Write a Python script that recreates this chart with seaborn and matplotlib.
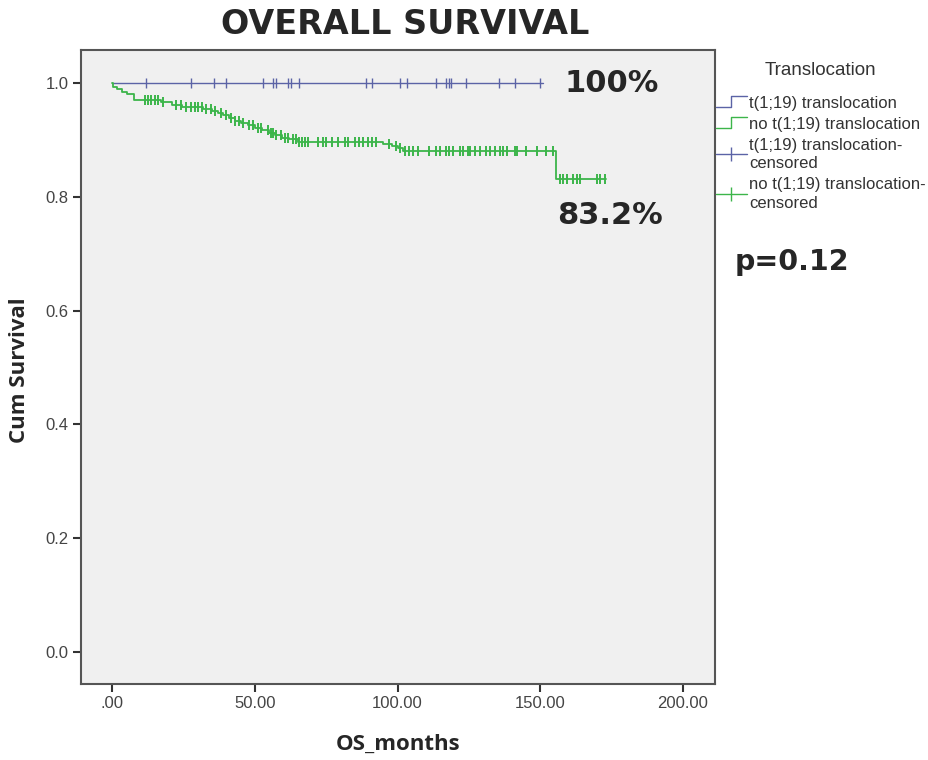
import numpy as np
import pandas as pd
import matplotlib
matplotlib.use('Agg')
import matplotlib.pyplot as plt
import seaborn as sns

from matplotlib.lines import Line2D
from matplotlib.legend_handler import HandlerBase

# t(1;19) translocation group: no deaths, survival flat at 1.0
trans_time = [0.0, 151.0]
trans_surv = [1.0, 1.0]
trans_censor = [11.8, 27.5, 35.8, 39.8, 52.9, 56.4, 57.3, 61.7, 62.7, 65.5,
                89.1, 91.2, 101.0, 103.4, 113.6, 117.1, 117.9, 118.6, 123.9,
                135.6, 141.1, 149.8]

# no t(1;19) translocation group: KM steps (time, survival after step)
no_time = [0.0, 0.4, 1.6, 3.5, 5.2, 7.6, 17.0, 21.0, 24.5, 32.0, 35.0, 37.0,
           39.0, 41.0, 43.0, 45.0, 47.5, 50.0, 52.5, 55.0, 57.0, 59.5, 62.0,
           65.0, 95.0, 98.0, 100.0, 102.0, 155.5, 173.0]
no_surv = [1.0, 0.993, 0.989, 0.985, 0.981, 0.970, 0.966, 0.962, 0.958, 0.955,
           0.951, 0.947, 0.943, 0.939, 0.934, 0.930, 0.926, 0.921, 0.917,
           0.913, 0.909, 0.904, 0.901, 0.897, 0.893, 0.889, 0.885, 0.881,
           0.832, 0.832]
no_censor = [11.5, 12.5, 13.5, 15.0, 16.0, 18.0, 22.5, 24.0, 26.0, 27.5, 29.0,
             30.0, 31.5, 33.0, 34.5, 36.0, 38.0, 40.0, 41.5, 43.0, 44.5, 46.0,
             48.0, 49.5, 51.0, 52.0, 54.5, 55.5, 56.5, 57.5, 59.0, 60.5, 61.5,
             63.5, 64.5, 65.5, 66.5, 67.5, 68.5, 72.0, 74.0, 75.0, 77.0, 79.0,
             81.5, 82.6, 85.0, 86.5, 88.0, 89.5, 91.0, 92.5, 97.0, 99.5, 101.0,
             102.5, 104.0, 105.5, 107.0, 111.0, 113.5, 115.0, 117.0, 118.0,
             119.5, 122.0, 123.0, 124.5, 125.5, 127.0, 129.0, 131.0, 132.5,
             134.0, 136.0, 137.0, 138.5, 141.0, 142.0, 145.0, 149.0, 152.0,
             154.5, 157.0, 158.0, 159.5, 161.5, 163.0, 164.0, 170.0, 171.0,
             172.5]

x_ticks = [0, 50, 100, 150, 200]
x_ticklabels = ['.00', '50.00', '100.00', '150.00', '200.00']
y_ticks = [0.0, 0.2, 0.4, 0.6, 0.8, 1.0]
y_ticklabels = ['0.0', '0.2', '0.4', '0.6', '0.8', '1.0']

legend_labels = ['t(1;19) translocation', 'no t(1;19) translocation',
                 't(1;19) translocation-\ncensored',
                 'no t(1;19) translocation-\ncensored']

BLUE = '#5b63a6'
GREEN = '#3cb54a'


class StepHandler(HandlerBase):
    # legend key drawn as a small step, like SPSS
    def create_artists(self, legend, orig_handle, xdescent, ydescent,
                       width, height, fontsize, trans):
        x0 = -xdescent
        y0 = -ydescent + height * 0.1
        y1 = -ydescent + height * 0.95
        xs = [x0, x0 + width * 0.5, x0 + width * 0.5, x0 + width]
        ys = [y0, y0, y1, y1]
        line = Line2D(xs, ys, color=orig_handle.get_color(), lw=1.0)
        line.set_transform(trans)
        return [line]


def surv_at(times, surv, t):
    idx = np.searchsorted(times, t, side='right') - 1
    return np.asarray(surv)[idx]


sns.set_style('white')
plt.rcParams['font.family'] = ['Liberation Sans', 'DejaVu Sans']

fig = plt.figure(figsize=(9.29, 7.6), dpi=100)
ax = fig.add_axes([81 / 929, 76 / 760, 634 / 929, 634 / 760])
ax.set_facecolor('#f0f0f0')

sns.lineplot(x=trans_time, y=trans_surv, drawstyle='steps-post',
             color=BLUE, lw=1.0, estimator=None, ax=ax)
sns.lineplot(x=no_time, y=no_surv, drawstyle='steps-post',
             color=GREEN, lw=1.3, estimator=None, ax=ax)

trans_c = pd.DataFrame({'t': trans_censor,
                        's': surv_at(trans_time, trans_surv, trans_censor)})
no_c = pd.DataFrame({'t': no_censor,
                     's': surv_at(no_time, no_surv, no_censor)})
sns.scatterplot(data=trans_c, x='t', y='s', marker='|', s=60,
                color=BLUE, linewidth=1.0, ax=ax)
sns.scatterplot(data=no_c, x='t', y='s', marker='|', s=60,
                color=GREEN, linewidth=1.4, ax=ax)

ax.set_xlim(-10.9, 211.2)
ax.set_ylim(-0.056, 1.058)
ax.set_xticks(x_ticks)
ax.set_xticklabels(x_ticklabels)
ax.set_yticks(y_ticks)
ax.set_yticklabels(y_ticklabels)
ax.tick_params(axis='both', direction='out', length=6, width=1.5,
               color='#333333', labelsize=12, labelcolor='#444444', pad=3,
               bottom=True, left=True)
for sp in ax.spines.values():
    sp.set_color('#555555')
    sp.set_linewidth(1.5)
ax.set_xlabel('')
ax.set_ylabel('')

fig.text(398 / 929, 1 - 744 / 760, 'OS_months', ha='center', va='center',
         fontsize=16, fontweight='bold', family=['Open Sans', 'DejaVu Sans'])
fig.text(20 / 929, 1 - 370 / 760, 'Cum Survival', ha='center', va='center',
         rotation=90, fontsize=16, fontweight='bold',
         family=['Open Sans', 'DejaVu Sans'])
fig.text(405 / 929, 1 - 25 / 760, 'OVERALL SURVIVAL', ha='center',
         va='center', fontsize=24, fontweight='bold',
         family=['DejaVu Sans'])

fig.text(565 / 929, 1 - 84 / 760, '100%', ha='left', va='center',
         fontsize=22, fontweight='bold', family=['DejaVu Sans'])
fig.text(557 / 929, 1 - 216 / 760, '83.2%', ha='left', va='center',
         fontsize=22, fontweight='bold', family=['DejaVu Sans'])
fig.text(735 / 929, 1 - 262 / 760, 'p=0.12', ha='left', va='center',
         fontsize=20.5, fontweight='bold', family=['DejaVu Sans'])

h1 = Line2D([], [], color=BLUE)
h2 = Line2D([], [], color=GREEN)
h3 = Line2D([], [], color=BLUE, marker='|', markersize=10, lw=1.0)
h4 = Line2D([], [], color=GREEN, marker='|', markersize=10, lw=1.0)
leg = ax.legend(handles=[h1, h2, h3, h4], labels=legend_labels,
                handler_map={h1: StepHandler(), h2: StepHandler()},
                loc='upper left', bbox_to_anchor=(716 / 929, 1 - 62 / 760),
                bbox_transform=fig.transFigure, frameon=False,
                fontsize=12, title='Translocation', title_fontsize=13.5,
                borderpad=0, borderaxespad=0, handlelength=1.85,
                handletextpad=0.12, labelspacing=0.35, handleheight=0.8)
for t in leg.get_texts():
    t.set_color('#333333')
    t.set_linespacing(1.3)
leg.get_title().set_color('#333333')
leg._legend_box.sep = 12

fig.savefig('out.png', dpi=100)
plt.close(fig)
